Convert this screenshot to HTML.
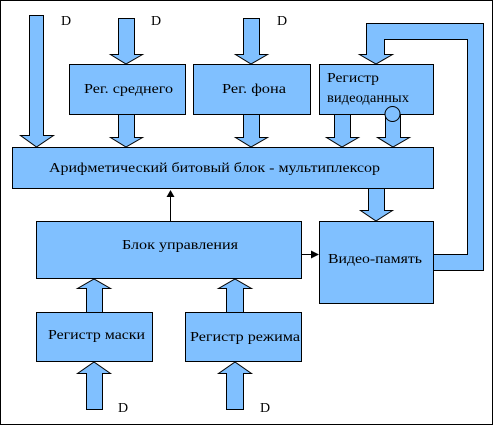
<!DOCTYPE html>
<html><head><style>
html,body{margin:0;padding:0;background:#fff;}
svg{display:block;}
</style></head><body>
<svg width="493" height="425" viewBox="0 0 493 425" xmlns="http://www.w3.org/2000/svg">
<rect x="0.5" y="0.5" width="492" height="424" fill="#fff" stroke="#000"/>
<g fill="#80c0ff" stroke="#000" stroke-width="1">
<path d="M433.5,254.5 H467.5 V39.5 H384.5 V54.5 H392.5 L376,64 L359.5,54.5 H366.5 V23.5 H483.5 V270.5 H433.5 Z"/>
<path d="M29.5,15.5 H43.5 V135.5 H53.5 L36.5,147 L20.5,135.5 H29.5 Z"/>
<path d="M118.5,18.5 H134.5 V54.5 H142.5 L126,64 L110.5,54.5 H118.5 Z"/>
<path d="M243.5,18.5 H259.5 V54.5 H267.5 L251,64 L235.5,54.5 H243.5 Z"/>
<path d="M118.5,114.5 H134.5 V137.5 H142.5 L126,147 L110.5,137.5 H118.5 Z"/>
<path d="M243.5,114.5 H259.5 V137.5 H267.5 L251,147 L235.5,137.5 H243.5 Z"/>
<path d="M334.5,114.5 H350.5 V137.5 H358.5 L342,147 L326.5,137.5 H334.5 Z"/>
<path d="M385.5,114.5 H400.5 V137.5 H409.5 L393,147 L377.5,137.5 H385.5 Z"/>
<path d="M368.5,188.5 H384.5 V210.5 H392.5 L376,221 L360.5,210.5 H368.5 Z"/>
<path d="M86.5,312.5 H102.5 V288.5 H110.5 L94,279 L77.5,288.5 H86.5 Z"/>
<path d="M226.5,312.5 H243.5 V288.5 H251.5 L235,279 L218.5,288.5 H226.5 Z"/>
<path d="M86.5,409.5 H102.5 V373.5 H110.5 L94,362 L77.5,373.5 H86.5 Z"/>
<path d="M226.5,409.5 H243.5 V373.5 H251.5 L235,362 L218.5,373.5 H226.5 Z"/>
<rect x="69.5" y="64.5" width="116" height="50"/>
<rect x="193.5" y="64.5" width="117" height="50"/>
<rect x="319.5" y="64.5" width="114" height="50"/>
<circle cx="392.5" cy="114" r="7.5"/>
<rect x="12.5" y="147.5" width="421" height="41"/>
<rect x="36.5" y="221.5" width="265" height="57"/>
<rect x="319.5" y="221.5" width="114" height="82"/>
<rect x="36.5" y="312.5" width="116" height="49"/>
<rect x="185.5" y="312.5" width="116" height="49"/>
</g>
<line x1="170.5" y1="221" x2="170.5" y2="196" stroke="#000"/>
<path d="M166.5,197 L170.5,190 L174.5,197 Z" fill="#000"/>
<line x1="301" y1="254.5" x2="312" y2="254.5" stroke="#000"/>
<path d="M311,250.5 L319,254.5 L311,258.5 Z" fill="#000"/>
<g font-family="'Liberation Serif', 'DejaVu Serif', serif" font-size="14" fill="#000">
<text x="61" y="25">D</text>
<text x="151" y="25">D</text>
<text x="277" y="25">D</text>
<text x="118" y="212" dy="200">D</text>
<text x="260" y="412">D</text>
<text x="84" y="93" textLength="89" lengthAdjust="spacingAndGlyphs">Рег. среднего</text>
<text x="222" y="93" textLength="64" lengthAdjust="spacingAndGlyphs">Рег. фона</text>
<text x="327" y="82" textLength="52" lengthAdjust="spacingAndGlyphs">Регистр</text>
<text x="327" y="102" textLength="82" lengthAdjust="spacingAndGlyphs">видеоданных</text>
<text x="49" y="172" textLength="331" lengthAdjust="spacingAndGlyphs">Арифметический битовый блок - мультиплексор</text>
<text x="122" y="249" textLength="116" lengthAdjust="spacingAndGlyphs">Блок управления</text>
<text x="328" y="263" textLength="94" lengthAdjust="spacingAndGlyphs">Видео-память</text>
<text x="48" y="339" textLength="97" lengthAdjust="spacingAndGlyphs">Регистр маски</text>
<text x="190" y="341" textLength="110" lengthAdjust="spacingAndGlyphs">Регистр режима</text>
</g>
</svg>
</body></html>
